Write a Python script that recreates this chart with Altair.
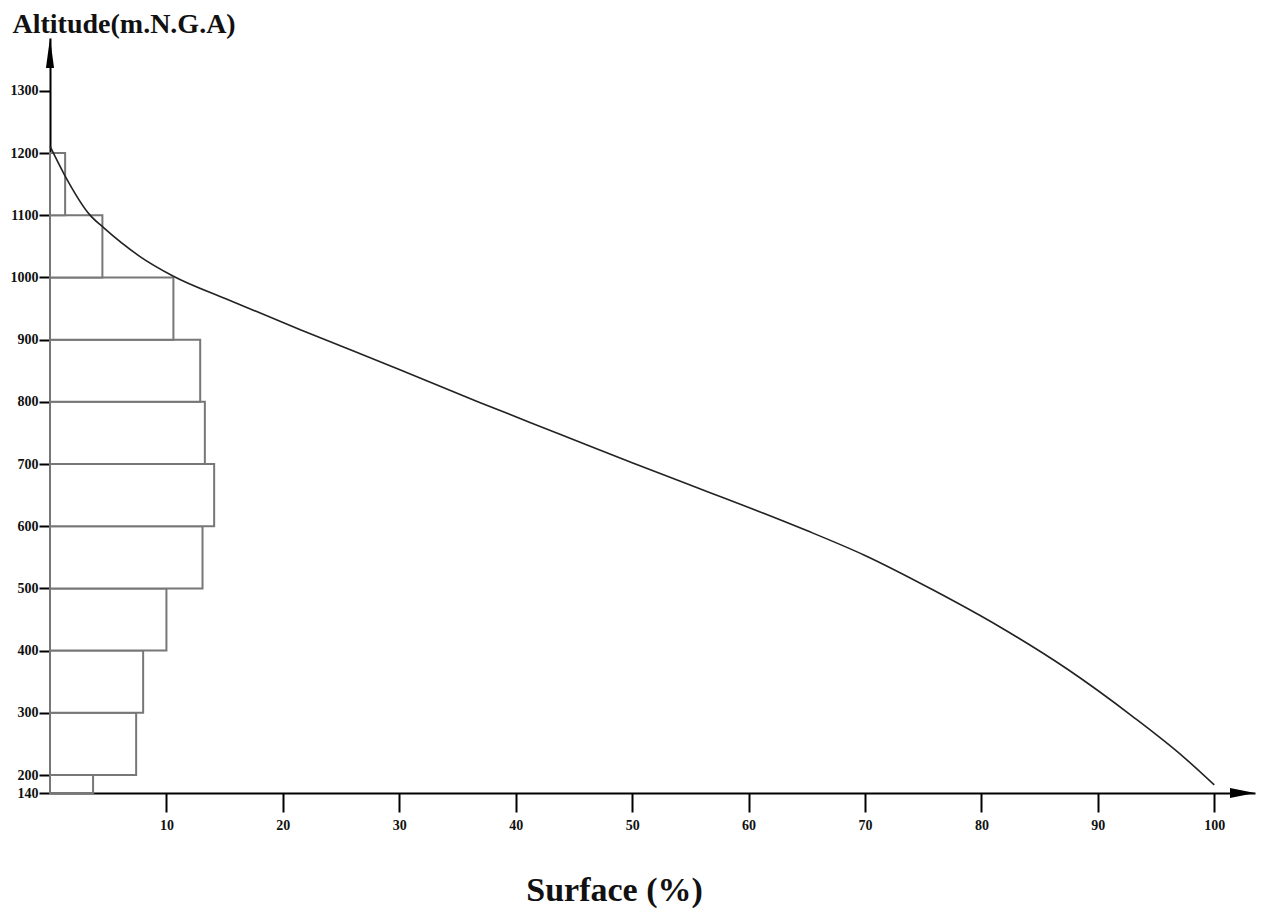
import altair as alt
import pandas as pd

# Histogram of altitude classes (% of surface)
class_low = [140, 200, 300, 400, 500, 600, 700, 800, 900, 1000, 1100]
class_high = [200, 300, 400, 500, 600, 700, 800, 900, 1000, 1100, 1200]
class_pct = [3.7, 7.4, 8.0, 10.0, 13.1, 14.1, 13.3, 12.9, 10.6, 4.5, 1.3]

# Hypsometric curve (cumulative surface %, altitude)
curve_pct = [0, 1.3, 3.4, 4.6, 7.7, 10.6, 15.2, 21.5, 30, 36.9, 43.8, 50, 56.7, 61,
             65, 70, 75.9, 81.6, 87.4, 93, 97.3, 100]
curve_alt = [1211, 1163, 1101, 1080, 1034, 1002, 965, 916, 852, 799, 748, 702, 654, 623,
             593, 553, 497, 438, 370, 294, 230, 167]

x_ticks = [10, 20, 30, 40, 50, 60, 70, 80, 90, 100]
y_ticks = [140, 200, 300, 400, 500, 600, 700, 800, 900, 1000, 1100, 1200, 1300]

x_max = 103.5
y_min = 140
y_max = 1385

W = 1205
H = 755

bars = pd.DataFrame({"low": class_low, "high": class_high, "pct": class_pct})
curve = pd.DataFrame({"pct": curve_pct, "alt": curve_alt})
x_arrow = pd.DataFrame({"pct": [x_max], "alt": [y_min]})
y_arrow = pd.DataFrame({"pct": [0], "alt": [y_max]})

FONT = "Liberation Serif"

xscale = alt.Scale(domain=[0, x_max], nice=False, zero=False)
yscale = alt.Scale(domain=[y_min, 200, y_max], range=[H, H - 18, 0], nice=False, zero=False)

xaxis = alt.Axis(
    values=x_ticks, grid=False, domainColor="black", domainWidth=2, format="d",
    tickColor="black", tickWidth=2, tickSize=19, labelPadding=6,
    labelFont=FONT, labelFontWeight="bold", labelFontSize=14, labelColor="#111",
    labelFlush=False, labelOverlap=False,
    title="Surface (%)", titleFont=FONT, titleFontSize=34, titleFontWeight="bold",
    titleColor="#111", titleX=564, titleY=107, titleAlign="center",
    titleBaseline="alphabetic", titleAnchor="start",
)
yaxis = alt.Axis(
    values=y_ticks, grid=False, domainColor="black", domainWidth=2, format="d",
    tickColor="black", tickWidth=2, tickSize=11, labelPadding=1,
    labelFont=FONT, labelFontWeight="bold", labelFontSize=14, labelColor="#111",
    labelFlush=False, labelOverlap=False,
    title="Altitude(m.N.G.A)", titleFont=FONT, titleFontSize=28, titleFontWeight="bold",
    titleColor="#111", titleAngle=0, titleX=-38, titleY=-6, titleAlign="left",
    titleBaseline="alphabetic", titleAnchor="start",
)

rects = alt.Chart(bars).mark_rect(fill="white", stroke="#777", strokeWidth=2).encode(
    x=alt.X("pct:Q", scale=xscale, axis=xaxis),
    x2=alt.datum(0),
    y=alt.Y("low:Q", scale=yscale, axis=yaxis),
    y2="high:Q",
)

line = alt.Chart(curve).mark_line(color="#222", strokeWidth=1.6, interpolate="monotone").encode(
    x=alt.X("pct:Q", scale=xscale),
    y=alt.Y("alt:Q", scale=yscale),
)

xarr = alt.Chart(x_arrow).mark_point(
    shape="M0,0L-2,-0.4L-2,0.4Z", size=625, filled=True, color="black", opacity=1
).encode(x=alt.X("pct:Q", scale=xscale), y=alt.Y("alt:Q", scale=yscale))

yarr = alt.Chart(y_arrow).mark_point(
    shape="M0,0L0.27,2L-0.27,2Z", size=900, filled=True, color="black", opacity=1
).encode(x=alt.X("pct:Q", scale=xscale), y=alt.Y("alt:Q", scale=yscale))

chart = alt.layer(rects, line, xarr, yarr).properties(
    width=W, height=H, background="white",
    autosize=alt.AutoSizeParams(type="none"),
    padding={"left": 42, "top": 30, "right": 1, "bottom": 117},
).configure_view(stroke="transparent", strokeWidth=0)

chart.save("out.html", embed_options={"renderer": "svg", "actions": False})
